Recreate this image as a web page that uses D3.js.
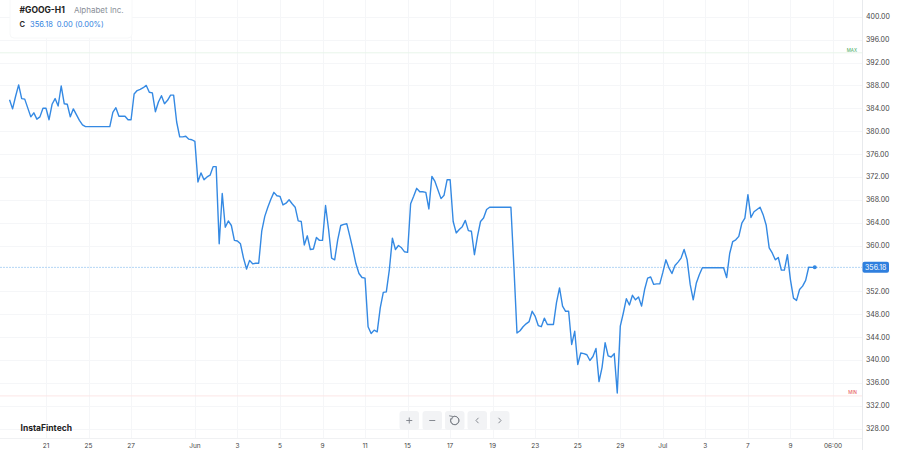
<!DOCTYPE html>
<html><head><meta charset="utf-8">
<script src="https://cdn.jsdelivr.net/npm/d3@7/dist/d3.min.js"></script>
<style>html,body{margin:0;padding:0;background:#fff;}svg{display:block;font-family:Inter,"Noto Sans",sans-serif;}</style>
</head><body>
<svg id="c" width="900" height="450"></svg>
<script>
// ---- data ----
const symbol = "#GOOG-H1";
const company = "Alphabet Inc.";
const lastPrice = 356.18;
const changeText = "0.00 (0.00%)";
const maxLevel = 393.7;
const minLevel = 333.7;
const yTicks = [400,396,392,388,384,380,376,372,368,364,360,352,348,344,340,336,332,328];
const xTickLabels = ["21","25","27","Jun","3","5","9","11","15","17","19","23","25","29","Jul","3","7","9","06:00"];
const xTickBars = [0,14,28,49,63,77,91,105,119,133,147,161,175,189,203,217,231,245,259];
const bars = [-12,-11,-10,-9,-8,-7,-5,-4,-3,-2,-1,0,1,2,3,4,5,6,7,8,9,10,11,12,13,21,22,23,24,25,26,27,28,29,30,31,32,33,34,35,36,37,38,39,40,41,42,43,44,45,46,47,48,49,50,51,52,53,54,55,56,57,58,59,60,61,62,63,64,65,66,67,68,69,70,71,72,73,74,75,76,77,78,79,80,81,82,83,84,85,86,87,88,89,90,91,92,93,94,95,96,97,98,99,100,101,102,103,104,105,106,107,108,109,110,111,112,113,114,115,116,117,118,119,120,121,122,123,124,125,126,127,128,130,131,132,133,134,135,136,137,138,139,140,141,142,143,144,145,146,153,154,155,156,157,158,159,160,161,162,163,164,165,166,167,168,169,170,171,172,173,174,175,176,177,178,179,180,181,182,183,184,185,186,187,188,189,190,191,192,193,194,195,196,197,198,199,200,201,202,203,204,205,206,207,208,209,210,211,212,213,214,215,216,223,224,225,226,227,228,229,230,231,232,233,234,235,236,237,238,239,240,241,242,243,244,245,246,247,248,249,250,251,252,253];
const prices = [385.5,383.9,386.1,388.1,385.7,385.6,382.5,383.2,382.1,382.5,384.0,384.0,382.0,384.7,385.7,384.4,387.9,384.8,384.7,382.5,383.9,382.9,381.9,381.1,380.8,380.8,383.3,384.1,382.6,382.6,382.6,382.0,382.0,386.5,387.1,387.3,387.6,388.0,386.8,386.7,383.4,385.1,386.2,384.8,385.4,386.3,386.3,381.6,379.0,379.0,379.1,378.6,378.5,378.2,371.1,372.7,371.5,372.0,372.3,373.8,373.8,360.3,369.1,363.2,364.3,363.5,360.9,360.8,360.3,357.8,355.9,357.4,356.8,356.9,356.9,362.5,365.1,366.7,368.1,369.3,368.7,368.6,367.1,367.4,368.0,367.3,366.7,364.3,364.2,360.1,361.7,359.3,359.4,361.4,360.9,360.9,367.0,362.8,357.8,357.5,361.0,363.5,363.7,363.8,361.6,359.3,356.8,355.1,354.4,354.3,345.8,344.6,345.2,344.9,349.1,351.8,351.9,355.8,361.3,359.3,360.0,359.6,358.9,358.8,367.3,368.6,370.0,369.4,369.4,369.3,366.4,372.1,371.2,368.2,368.8,371.5,371.5,364.2,362.2,362.8,363.3,364.4,362.6,362.5,358.4,361.6,364.2,364.8,366.3,366.7,366.7,356.1,344.7,345.1,345.8,346.3,346.7,348.5,347.6,346.0,345.8,347.3,346.2,346.2,346.2,350.0,352.6,349.4,348.5,348.5,342.7,345.0,339.2,341.2,341.1,340.9,339.9,340.6,342.0,336.2,338.7,343.0,340.7,340.5,341.1,334.2,345.9,348.2,350.7,349.6,351.3,350.5,351.0,349.4,352.3,354.3,354.5,353.2,353.3,353.3,355.3,357.5,356.1,355.1,356.5,357.1,357.8,359.3,357.5,353.2,350.5,353.4,354.9,356.1,356.1,354.4,358.6,360.7,361.0,361.6,363.9,364.8,368.9,364.9,365.9,366.3,366.7,365.4,363.6,359.6,358.7,357.5,357.9,355.7,355.7,358.4,354.0,350.8,350.4,352.3,352.9,353.9,356.2,356.18,356.18];

// ---- layout ----
const W = 900, H = 450;
const plotRight = 862, plotBottom = 438;
const svg = d3.select("#c");
svg.append("rect").attr("width", W).attr("height", H).attr("fill", "#fff");

const x = d3.scaleLinear().domain([0, 259]).range([46, 833]);
const y = d3.scaleLinear().domain([328, 400]).range([428.5, 16.8]);

// grid
const g = svg.append("g");
g.selectAll(".vg").data(xTickBars).join("line")
  .attr("x1", d => Math.round(x(d)) + 0.5).attr("x2", d => Math.round(x(d)) + 0.5)
  .attr("y1", 0).attr("y2", plotBottom).attr("stroke", "#f5f6f8").attr("stroke-width", 1);
g.selectAll(".hg").data(yTicks).join("line")
  .attr("x1", 0).attr("x2", plotRight)
  .attr("y1", d => Math.round(y(d)) + 0.5).attr("y2", d => Math.round(y(d)) + 0.5)
  .attr("stroke", "#f5f6f8").attr("stroke-width", 1);

// borders
svg.append("line").attr("x1", plotRight + 0.5).attr("x2", plotRight + 0.5).attr("y1", 0).attr("y2", H)
  .attr("stroke", "#e8eaed");
svg.append("line").attr("x1", 0).attr("x2", plotRight).attr("y1", plotBottom + 0.5).attr("y2", plotBottom + 0.5)
  .attr("stroke", "#f0f1f3");

// max / min levels
svg.append("line").attr("x1", 0).attr("x2", plotRight).attr("y1", y(maxLevel)).attr("y2", y(maxLevel))
  .attr("stroke", "#e8f5ea").attr("stroke-width", 1);
svg.append("line").attr("x1", 0).attr("x2", plotRight).attr("y1", y(minLevel)).attr("y2", y(minLevel))
  .attr("stroke", "#fce6e6").attr("stroke-width", 1);
svg.append("text").attr("x", 857).attr("y", y(maxLevel) - 1.2).attr("text-anchor", "end")
  .attr("font-size", 4.5).attr("fill", "#3aa757").text("MAX");
svg.append("text").attr("x", 857).attr("y", y(minLevel) - 1.8).attr("text-anchor", "end")
  .attr("font-size", 4.5).attr("fill", "#e5484d").text("MIN");

// current price line
svg.append("line").attr("x1", 0).attr("x2", plotRight).attr("y1", y(lastPrice)).attr("y2", y(lastPrice))
  .attr("stroke", "#b4d6f5").attr("stroke-width", 1).attr("stroke-dasharray", "2,1");

// y axis labels
svg.selectAll(".yl").data(yTicks).join("text")
  .attr("x", 866).attr("y", d => y(d) + 2.5).attr("font-size", 7).attr("fill", "#444")
  .text(d => d.toFixed(2));

// price badge
svg.append("rect").attr("x", 862.5).attr("y", y(lastPrice) - 5.5).attr("width", 26.5).attr("height", 11)
  .attr("rx", 2).attr("fill", "#2f7fde");
svg.append("text").attr("x", 875.7).attr("y", y(lastPrice) + 2.5).attr("text-anchor", "middle")
  .attr("font-size", 7).attr("fill", "#fff").text(lastPrice.toFixed(2));

// x axis labels
svg.selectAll(".xl").data(xTickLabels).join("text")
  .attr("x", (d, i) => x(xTickBars[i])).attr("y", 447.5).attr("text-anchor", "middle")
  .attr("font-size", 6.5).attr("fill", "#444").text(d => d);

// price line
const pts = bars.map((b, i) => [b, prices[i]]);
const line = d3.line().x(d => x(d[0])).y(d => y(d[1]));
svg.append("path").datum(pts).attr("d", line).attr("fill", "none")
  .attr("stroke", "#3489e3").attr("stroke-width", 1.4).attr("stroke-linejoin", "round");
svg.append("circle").attr("cx", x(bars[bars.length - 1])).attr("cy", y(prices[prices.length - 1]))
  .attr("r", 2).attr("fill", "#3489e3");

// header panel
svg.append("rect").attr("x", 10).attr("y", -4).attr("width", 122).attr("height", 42).attr("rx", 4)
  .attr("fill", "#fff").attr("stroke", "#f7f8f9");
const h1 = svg.append("text").attr("x", 19.5).attr("y", 13.3).attr("font-size", 8.5);
h1.append("tspan").attr("font-weight", 700).attr("fill", "#222").text(symbol);
h1.append("tspan").attr("dx", 9).attr("fill", "#8a8f98").attr("font-size", 8).text(company);
const h2 = svg.append("text").attr("x", 19.5).attr("y", 27.3).attr("font-size", 7.5);
h2.append("tspan").attr("fill", "#222").attr("font-weight", 600).text("C");
h2.append("tspan").attr("dx", 5).attr("fill", "#2f7fde").text(lastPrice.toFixed(2));
h2.append("tspan").attr("dx", 4).attr("fill", "#2f7fde").text(changeText);

// brand
svg.append("text").attr("x", 20.5).attr("y", 431).attr("font-size", 8.5).attr("font-weight", 700)
  .attr("fill", "#222").text("InstaFintech");

// navigation buttons
const btnX = [399.5, 422.5, 445, 467.5, 490];
const btns = svg.selectAll(".btn").data(btnX).join("g").attr("transform", d => `translate(${d},411)`);
btns.append("rect").attr("width", 19.5).attr("height", 19).attr("rx", 3).attr("fill", "#f2f3f5");
const ic = "#7a7f87";
const b0 = d3.select(btns.nodes()[0]);
b0.append("path").attr("d", "M9.75,6.5V12.5M6.75,9.5H12.75").attr("stroke", ic).attr("stroke-width", 0.9);
const b1 = d3.select(btns.nodes()[1]);
b1.append("path").attr("d", "M6.75,9.5H12.75").attr("stroke", ic).attr("stroke-width", 0.9);
const b2 = d3.select(btns.nodes()[2]);
b2.append("path").attr("d", d3.arc()({innerRadius: 4.2, outerRadius: 4.2, startAngle: -0.5, endAngle: 5.3}))
  .attr("transform", "translate(9.75,9.5)").attr("fill", "none").attr("stroke", ic).attr("stroke-width", 0.9);
b2.append("path").attr("d", "M4.2,4.8L7.6,5.4L6.8,8.4").attr("fill", "none").attr("stroke", ic).attr("stroke-width", 0.9);
const b3 = d3.select(btns.nodes()[3]);
b3.append("path").attr("d", "M11,6.8L8.5,9.5L11,12.2").attr("fill", "none").attr("stroke", ic).attr("stroke-width", 0.9);
const b4 = d3.select(btns.nodes()[4]);
b4.append("path").attr("d", "M8.5,6.8L11,9.5L8.5,12.2").attr("fill", "none").attr("stroke", ic).attr("stroke-width", 0.9);
</script>
</body></html>
